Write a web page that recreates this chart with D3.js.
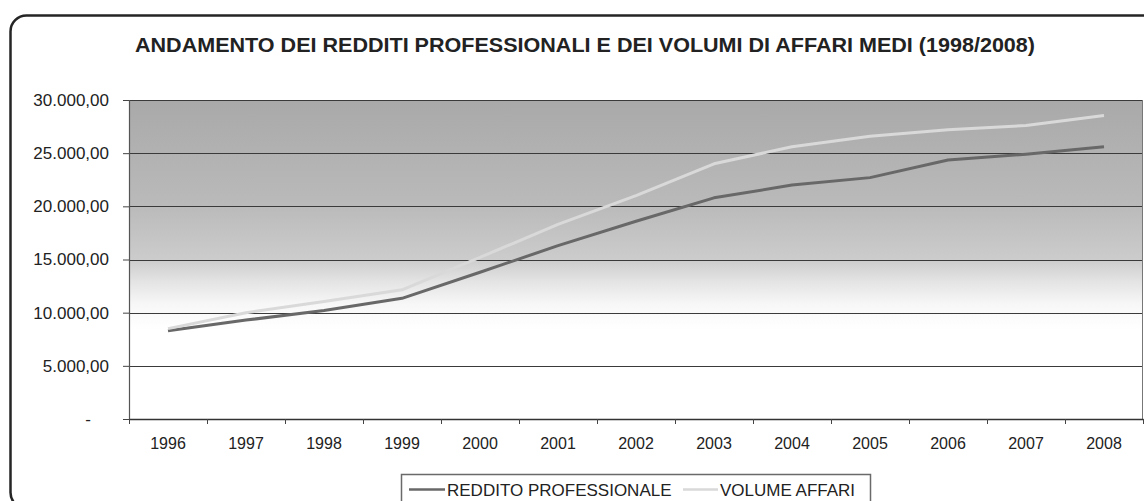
<!DOCTYPE html>
<html lang="it">
<head>
<meta charset="utf-8">
<title>Andamento dei redditi professionali e dei volumi di affari medi</title>
<script src="https://cdn.jsdelivr.net/npm/d3@7"></script>
<style>
  html, body { margin: 0; padding: 0; background: #ffffff; }
  svg { display: block; font-family: "Liberation Sans", Arial, sans-serif; }
</style>
</head>
<body>
<svg id="chart" width="1144" height="501"></svg>
<script>
// Years on the category axis
const years = ["1996", "1997", "1998", "1999", "2000", "2001", "2002",
               "2003", "2004", "2005", "2006", "2007", "2008"];

// Average professional income (euro)
const redditoProfessionale = [8300, 9300, 10200, 11350, 13800, 16300, 18600,
                              20800, 22000, 22700, 24350, 24900, 25600];

// Average turnover (euro)
const volumeAffari = [8500, 10000, 11050, 12150, 15200, 18300, 21000,
                      24000, 25600, 26600, 27200, 27600, 28550];

// Value-axis ticks
const yTicks = [0, 5000, 10000, 15000, 20000, 25000, 30000];

const seriesNames = ["REDDITO PROFESSIONALE", "VOLUME AFFARI"];
const titleText = "ANDAMENTO DEI REDDITI PROFESSIONALI E DEI VOLUMI DI AFFARI MEDI (1998/2008)";

const svg = d3.select("#chart");

// Plot area geometry
const plot = { left: 129, right: 1143, top: 100, bottom: 419 };

const x = d3.scaleBand().domain(years).range([plot.left, plot.right]);
const y = d3.scaleLinear().domain([0, 30000]).range([plot.bottom, plot.top]);

const it = d3.formatLocale({ decimal: ",", thousands: ".", grouping: [3], currency: ["€", ""] });
const fmt = it.format(",.2f");

// Outer rounded frame
svg.append("rect")
  .attr("x", 10.5).attr("y", 15.5)
  .attr("width", 1160).attr("height", 493)
  .attr("rx", 16).attr("ry", 16)
  .attr("fill", "#ffffff")
  .attr("stroke", "#252525")
  .attr("stroke-width", 2.5);

// Title
svg.append("text")
  .attr("x", 585).attr("y", 52)
  .attr("text-anchor", "middle")
  .attr("font-size", 21)
  .attr("font-weight", "bold")
  .attr("fill", "#222")
  .attr("textLength", 900)
  .attr("lengthAdjust", "spacingAndGlyphs")
  .text(titleText);

// Plot background: grey at the top fading to white
const defs = svg.append("defs");
const grad = defs.append("linearGradient")
  .attr("id", "plotFill")
  .attr("x1", 0).attr("y1", 0).attr("x2", 0).attr("y2", 1);
[
  [0, "#a9a9a9"], [0.33, "#bababa"], [0.5, "#cccccc"],
  [0.57, "#e4e4e4"], [0.64, "#f7f7f7"], [0.72, "#ffffff"], [1, "#ffffff"]
].forEach(([o, c]) => grad.append("stop").attr("offset", o).attr("stop-color", c));

svg.append("rect")
  .attr("x", plot.left).attr("y", plot.top)
  .attr("width", plot.right - plot.left)
  .attr("height", plot.bottom - plot.top)
  .attr("fill", "url(#plotFill)");

// Horizontal gridlines
svg.append("g")
  .selectAll("line")
  .data(yTicks.filter(d => d > 0))
  .join("line")
  .attr("x1", plot.left).attr("x2", plot.right)
  .attr("y1", d => Math.round(y(d)) + 0.5)
  .attr("y2", d => Math.round(y(d)) + 0.5)
  .attr("stroke", "#3a3a3a")
  .attr("stroke-width", 1.2);

// Right border of plot area
svg.append("line")
  .attr("x1", plot.right - 0.5).attr("x2", plot.right - 0.5)
  .attr("y1", plot.top).attr("y2", plot.bottom)
  .attr("stroke", "#777").attr("stroke-width", 1);

// Value axis
const yAxis = svg.append("g")
  .attr("transform", `translate(${plot.left},0)`)
  .call(d3.axisLeft(y).tickValues(yTicks).tickSize(6).tickPadding(14)
        .tickFormat(d => d === 0 ? "-" : fmt(d)));
yAxis.select(".domain").attr("stroke", "#555").attr("stroke-width", 1.2);
yAxis.selectAll(".tick line").attr("stroke", "#444");
yAxis.selectAll(".tick text")
  .attr("font-size", 17)
  .attr("fill", "#222")
  .attr("font-family", "'Liberation Sans', Arial, sans-serif");
yAxis.selectAll(".tick")
  .filter(d => d === 0)
  .select("text")
  .attr("text-anchor", "middle")
  .attr("x", 88 - plot.left);

// Category axis: labels at band centres
const xAxis = svg.append("g")
  .attr("transform", `translate(0,${plot.bottom})`)
  .call(d3.axisBottom(x).tickSize(0).tickPadding(19));
xAxis.select(".domain").attr("stroke", "#333").attr("stroke-width", 1.5);
xAxis.selectAll(".tick text")
  .attr("font-size", 16)
  .attr("fill", "#222")
  .attr("font-family", "'Liberation Sans', Arial, sans-serif");

// Category tick marks at band boundaries
const boundaries = years.map(d => x(d)).concat([x.range()[1]]);
svg.append("g")
  .selectAll("line")
  .data(boundaries)
  .join("line")
  .attr("x1", d => Math.round(d) + 0.5).attr("x2", d => Math.round(d) + 0.5)
  .attr("y1", plot.bottom).attr("y2", plot.bottom + 5)
  .attr("stroke", "#444");

// Series lines
const series = [
  { name: seriesNames[0], values: redditoProfessionale, color: "#686868" },
  { name: seriesNames[1], values: volumeAffari, color: "#d9d9d9" }
];

const line = d3.line()
  .x((d, i) => x(years[i]) + x.bandwidth() / 2)
  .y(d => y(d));

svg.append("g")
  .selectAll("path")
  .data(series)
  .join("path")
  .attr("d", d => line(d.values))
  .attr("fill", "none")
  .attr("stroke", d => d.color)
  .attr("stroke-width", 3)
  .attr("stroke-linejoin", "round");

// Legend
const legend = svg.append("g");
legend.append("rect")
  .attr("x", 401.5).attr("y", 474.5)
  .attr("width", 469).attr("height", 40)
  .attr("fill", "#ffffff")
  .attr("stroke", "#6a6a6a")
  .attr("stroke-width", 1.5);

const legendItems = [
  { x0: 409, x1: 445, tx: 447 },
  { x0: 683, x1: 718, tx: 720 }
];
legendItems.forEach((p, i) => {
  legend.append("line")
    .attr("x1", p.x0).attr("x2", p.x1)
    .attr("y1", 489.5).attr("y2", 489.5)
    .attr("stroke", series[i].color)
    .attr("stroke-width", 2.5);
  legend.append("text")
    .attr("x", p.tx).attr("y", 495.5)
    .attr("font-size", 17)
    .attr("fill", "#222")
    .text(series[i].name);
});
</script>
</body>
</html>
